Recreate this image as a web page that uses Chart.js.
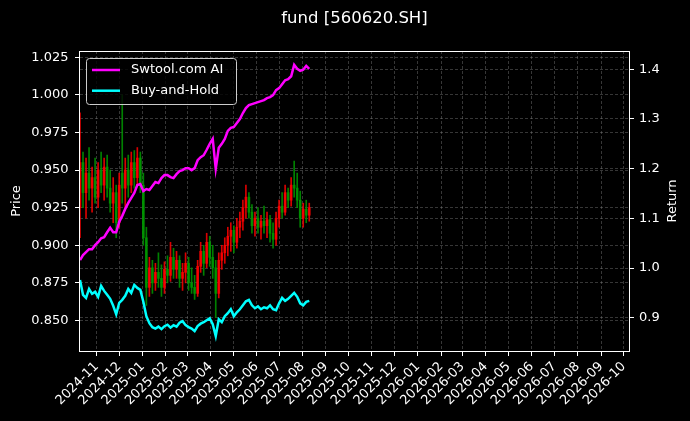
<!DOCTYPE html>
<html>
<head>
<meta charset="utf-8">
<title>fund [560620.SH]</title>
<script src="https://cdn.jsdelivr.net/npm/chart.js@4.4.1/dist/chart.umd.min.js"></script>
<style>
  html, body { margin: 0; padding: 0; background: #000; }
  #wrap { width: 690px; height: 421px; }
</style>
</head>
<body>
<div id="wrap"><canvas id="fundChart" width="690" height="421"></canvas></div>
<script>
const chartTitle = "fund [560620.SH]";

// sample dates (every few days)
const dates = [
  "2024-10-10","2024-10-14","2024-10-18","2024-10-22","2024-10-26","2024-10-30",
  "2024-11-03","2024-11-07","2024-11-11","2024-11-15","2024-11-19","2024-11-23","2024-11-27",
  "2024-12-01","2024-12-05","2024-12-09","2024-12-13","2024-12-17","2024-12-21","2024-12-25","2024-12-29",
  "2025-01-02","2025-01-06","2025-01-10","2025-01-14","2025-01-18","2025-01-22","2025-01-26","2025-01-30",
  "2025-02-03","2025-02-07","2025-02-11","2025-02-15","2025-02-19","2025-02-23","2025-02-27",
  "2025-03-03","2025-03-07","2025-03-11","2025-03-15","2025-03-19","2025-03-23","2025-03-27","2025-03-31",
  "2025-04-04","2025-04-08","2025-04-12","2025-04-16","2025-04-20","2025-04-24","2025-04-28",
  "2025-05-02","2025-05-06","2025-05-10","2025-05-14","2025-05-18","2025-05-22","2025-05-26","2025-05-30",
  "2025-06-03","2025-06-07","2025-06-11","2025-06-15","2025-06-19","2025-06-23","2025-06-27",
  "2025-07-01","2025-07-05","2025-07-09","2025-07-13","2025-07-17","2025-07-21","2025-07-25","2025-07-29",
  "2025-08-02","2025-08-06","2025-08-10"
];

// candles (price, left axis)
const opens = [
  0.925,0.955,0.935,0.948,0.938,0.945,
  0.932,0.950,0.940,0.952,0.938,0.928,0.935,
  0.915,0.948,0.938,0.950,0.940,0.955,0.945,0.958,
  0.940,0.905,0.872,0.885,0.875,0.882,0.878,0.872,
  0.884,0.880,0.892,0.884,0.890,0.878,0.882,
  0.888,0.875,0.872,0.868,0.886,0.896,0.888,0.902,
  0.892,0.885,0.868,0.890,0.895,0.900,0.906,
  0.910,0.902,0.912,0.916,0.925,0.932,0.922,0.913,
  0.918,0.912,0.916,0.913,0.917,0.908,0.904,
  0.918,0.926,0.922,0.935,0.930,0.940,0.938,0.930,
  0.918,0.924,0.920
];
const highs = [
  0.988,0.962,0.958,0.965,0.952,0.958,
  0.955,0.962,0.958,0.960,0.950,0.945,0.940,
  0.948,1.000,0.958,0.960,0.962,0.963,0.965,0.962,
  0.948,0.912,0.892,0.890,0.888,0.895,0.887,0.889,
  0.893,0.902,0.898,0.896,0.893,0.888,0.895,
  0.892,0.885,0.880,0.890,0.902,0.900,0.908,0.906,
  0.900,0.890,0.895,0.900,0.905,0.912,0.915,
  0.913,0.918,0.922,0.930,0.940,0.935,0.927,0.922,
  0.925,0.920,0.926,0.922,0.920,0.915,0.922,
  0.930,0.935,0.940,0.938,0.945,0.956,0.948,0.936,
  0.928,0.930,0.928
];
const lows = [
  0.905,0.925,0.918,0.930,0.922,0.928,
  0.925,0.935,0.930,0.932,0.922,0.915,0.905,
  0.912,0.928,0.925,0.932,0.935,0.938,0.940,0.935,
  0.900,0.860,0.866,0.868,0.870,0.872,0.866,0.868,
  0.875,0.876,0.878,0.878,0.872,0.870,0.875,
  0.870,0.868,0.864,0.866,0.882,0.880,0.885,0.886,
  0.878,0.852,0.865,0.884,0.888,0.893,0.896,
  0.895,0.898,0.905,0.910,0.918,0.918,0.908,0.906,
  0.908,0.904,0.908,0.905,0.902,0.898,0.900,
  0.912,0.918,0.920,0.925,0.926,0.932,0.925,0.912,
  0.912,0.915,0.916
];
const closes = [
  0.955,0.935,0.948,0.938,0.945,0.932,
  0.950,0.940,0.952,0.938,0.928,0.935,0.915,
  0.940,0.938,0.950,0.940,0.955,0.945,0.958,0.940,
  0.905,0.872,0.885,0.875,0.882,0.878,0.872,0.884,
  0.880,0.892,0.884,0.890,0.878,0.882,0.888,
  0.875,0.872,0.868,0.886,0.896,0.888,0.902,0.892,
  0.885,0.868,0.890,0.895,0.900,0.906,0.910,
  0.902,0.912,0.916,0.925,0.932,0.922,0.913,0.918,
  0.912,0.916,0.913,0.917,0.908,0.904,0.918,
  0.926,0.922,0.935,0.930,0.940,0.938,0.930,0.918,
  0.924,0.920,0.925
];

// returns (right axis)
const aiReturn = [
  1.016,1.026,1.032,1.038,1.038,1.046,
  1.052,1.060,1.062,1.072,1.081,1.072,1.072,
  1.093,1.105,1.119,1.131,1.141,1.151,1.167,1.169,
  1.155,1.159,1.157,1.165,1.173,1.171,1.181,1.187,
  1.187,1.183,1.181,1.189,1.195,1.197,1.201,
  1.201,1.197,1.201,1.217,1.223,1.227,1.238,1.250,
  1.260,1.200,1.242,1.250,1.260,1.276,1.282,
  1.284,1.292,1.300,1.312,1.322,1.328,1.330,1.332,
  1.334,1.336,1.338,1.342,1.344,1.348,1.358,
  1.362,1.370,1.378,1.380,1.386,1.409,1.401,1.397,
  1.399,1.407,1.401
];
const holdReturn = [
  0.976,0.946,0.940,0.958,0.948,0.952,
  0.942,0.964,0.954,0.946,0.938,0.924,0.907,
  0.930,0.936,0.944,0.958,0.950,0.966,0.960,0.956,
  0.932,0.903,0.889,0.881,0.878,0.882,0.877,0.883,
  0.886,0.880,0.885,0.882,0.890,0.893,0.885,
  0.881,0.878,0.873,0.883,0.888,0.891,0.895,0.899,
  0.887,0.863,0.897,0.891,0.903,0.909,0.917,
  0.903,0.911,0.917,0.925,0.933,0.936,0.925,0.919,
  0.923,0.917,0.921,0.919,0.925,0.917,0.915,
  0.929,0.940,0.934,0.938,0.944,0.950,0.942,0.929,
  0.925,0.932,0.934
];

// axis ticks
const monthLabels = [
  "2024-11","2024-12","2025-01","2025-02","2025-03","2025-04","2025-05","2025-06",
  "2025-07","2025-08","2025-09","2025-10","2025-11","2025-12","2026-01","2026-02",
  "2026-03","2026-04","2026-05","2026-06","2026-07","2026-08","2026-09","2026-10"
];
const priceTicks = [0.850, 0.875, 0.900, 0.925, 0.950, 0.975, 1.000, 1.025];
const returnTicks = [0.9, 1.0, 1.1, 1.2, 1.3, 1.4];

const xStart = "2024-10-10";
const xEnd = "2026-10-08";

const gridColor = "rgba(150,150,150,0.45)";
const upColor = "rgba(255,0,0,0.85)";
const downColor = "rgba(0,150,0,0.85)";

Chart.defaults.font.family = "'DejaVu Sans', sans-serif";
Chart.defaults.font.size = 13;
Chart.defaults.color = "#ffffff";

const t = dates.map(d => Date.parse(d));
const candleColors = closes.map((c, i) => (c >= opens[i] ? upColor : downColor));

// frame, title, axis titles and legend box
const decorations = {
  id: "decorations",
  beforeDraw(chart) {
    const ctx = chart.ctx;
    ctx.save();
    ctx.fillStyle = "#000";
    ctx.fillRect(0, 0, chart.width, chart.height);
    ctx.restore();
  },
  afterDraw(chart) {
    const { ctx, chartArea: a } = chart;
    ctx.save();
    ctx.strokeStyle = "#fff";
    ctx.lineWidth = 1;
    ctx.strokeRect(a.left - 0.5, a.top + 0.5, a.right - a.left + 1, a.bottom - a.top);

    ctx.fillStyle = "#fff";
    ctx.textAlign = "center";
    ctx.textBaseline = "middle";
    ctx.font = "16.5px 'DejaVu Sans'";
    ctx.fillText(chartTitle, (a.left + a.right) / 2, 19);

    ctx.font = "13px 'DejaVu Sans'";
    const midY = (a.top + a.bottom) / 2;
    [["Price", 17], ["Return", 673]].forEach(([txt, x]) => {
      ctx.save();
      ctx.translate(x, midY);
      ctx.rotate(-Math.PI / 2);
      ctx.fillText(txt, 0, 0);
      ctx.restore();
    });

    // legend
    const lines = chart.data.datasets.filter(ds => ds.type === "line");
    const bx = 86.5, by = 58.5, bw = 150, bh = 46;
    ctx.beginPath();
    ctx.roundRect(bx, by, bw, bh, 3);
    ctx.fillStyle = "rgba(0,0,0,0.8)";
    ctx.fill();
    ctx.strokeStyle = "#cccccc";
    ctx.stroke();
    ctx.textAlign = "left";
    lines.forEach((ds, i) => {
      const y = 70 + i * 20.7;
      ctx.beginPath();
      ctx.moveTo(92, y);
      ctx.lineTo(120, y);
      ctx.strokeStyle = ds.borderColor;
      ctx.lineWidth = 2.5;
      ctx.stroke();
      ctx.fillStyle = "#fff";
      ctx.fillText(ds.label, 131, y);
    });
    ctx.restore();
  }
};

const ctx = document.getElementById("fundChart").getContext("2d");
new Chart(ctx, {
  type: "bar",
  data: {
    datasets: [
      {
        type: "line",
        label: "Swtool.com AI",
        data: t.map((x, i) => ({ x, y: aiReturn[i] })),
        yAxisID: "y1",
        borderColor: "#ff00ff",
        borderWidth: 2.5,
        pointRadius: 0,
        tension: 0,
        order: 0
      },
      {
        type: "line",
        label: "Buy-and-Hold",
        data: t.map((x, i) => ({ x, y: holdReturn[i] })),
        yAxisID: "y1",
        borderColor: "#00ffff",
        borderWidth: 2.5,
        pointRadius: 0,
        tension: 0,
        order: 1
      },
      {
        label: "body",
        data: t.map((x, i) => ({ x, y: [opens[i], closes[i]] })),
        yAxisID: "y",
        backgroundColor: candleColors,
        barThickness: 2,
        grouped: false,
        order: 2
      },
      {
        label: "wick",
        data: t.map((x, i) => ({ x, y: [lows[i], highs[i]] })),
        yAxisID: "y",
        backgroundColor: candleColors,
        barThickness: 1,
        grouped: false,
        order: 3
      }
    ]
  },
  options: {
    responsive: false,
    animation: false,
    devicePixelRatio: 1,
    layout: { padding: { top: 51, left: 0, right: 0, bottom: 0 } },
    plugins: {
      legend: { display: false },
      tooltip: { enabled: false },
      title: { display: false }
    },
    scales: {
      x: {
        type: "linear",
        min: Date.parse(xStart),
        max: Date.parse(xEnd),
        offset: false,
        afterBuildTicks: s => {
          s.ticks = monthLabels.map(m => ({ value: Date.parse(m + "-01") }));
        },
        afterFit: s => { s.height = 70; },
        ticks: {
          autoSkip: false,
          maxRotation: 45,
          minRotation: 45,
          padding: 3,
          color: "#fff",
          callback: v => {
            const d = new Date(v);
            return d.getUTCFullYear() + "-" + String(d.getUTCMonth() + 1).padStart(2, "0");
          }
        },
        grid: { color: gridColor, lineWidth: 0.8, offset: false, tickColor: "#fff", tickLength: 5, tickWidth: 1, tickBorderDash: [] },
        border: { display: false, dash: [3, 2] }
      },
      y: {
        position: "left",
        min: 0.8297,
        max: 1.0292,
        afterBuildTicks: s => { s.ticks = priceTicks.map(v => ({ value: v })); },
        afterFit: s => { s.width = 80; },
        ticks: { padding: 6.5, color: "#fff", callback: v => Number(v).toFixed(3) },
        grid: { color: gridColor, lineWidth: 0.8, tickColor: "#fff", tickLength: 5, tickWidth: 1, tickBorderDash: [] },
        border: { display: false, dash: [3, 2] }
      },
      y1: {
        position: "right",
        min: 0.833,
        max: 1.4368,
        afterBuildTicks: s => { s.ticks = returnTicks.map(v => ({ value: v })); },
        afterFit: s => { s.width = 61; },
        ticks: { padding: 5, color: "#fff", callback: v => Number(v).toFixed(1) },
        grid: { color: gridColor, lineWidth: 0.8, tickColor: "#fff", tickLength: 5, tickWidth: 1, tickBorderDash: [] },
        border: { display: false, dash: [3, 2] }
      }
    }
  },
  plugins: [decorations]
});
</script>
</body>
</html>
